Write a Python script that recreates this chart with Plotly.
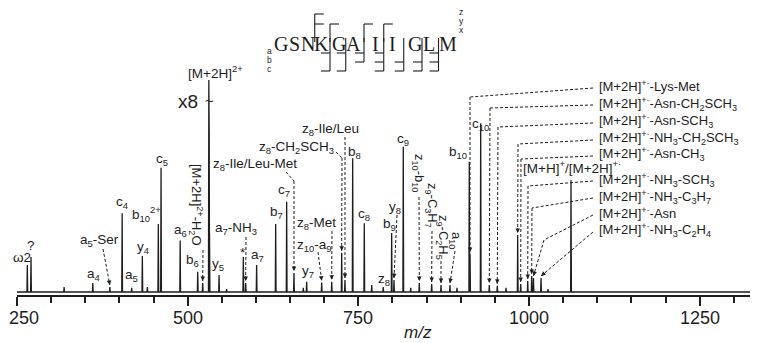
import plotly.graph_objects as go

# ---------------- data ----------------
peak_mz = [265.1, 270.5, 319.0, 361.0, 386.0, 404.0, 418.0, 433.6, 441.0, 457.0,
           461.0, 489.0, 514.7, 522.0, 531.0, 531.5, 532.0, 546.0, 557.0, 581.5,
           585.0, 601.0, 628.9, 645.0, 655.7, 669.4, 674.3, 696.3, 711.0, 725.6,
           730.4, 741.7, 758.7, 769.6, 786.5, 798.8, 802.2, 815.8, 826.7, 839.3,
           857.4, 871.1, 884.2, 894.5, 912.5, 913.6, 929.2, 941.8, 953.5, 966.3,
           983.4, 987.8, 998.1, 1003.9, 1006.5, 1017.6, 1027.8, 1061.5]
peak_int = [9.2, 12.0, 1.7, 3.1, 1.7, 27.0, 1.4, 12.3, 1.7, 23.3,
            42.5, 17.6, 6.9, 3.1, 72.6, 55.0, 20.0, 5.8, 1.0, 12.0,
            3.1, 9.2, 23.3, 30.9, 6.5, 1.4, 3.5, 3.2, 3.5, 13.4,
            4.1, 45.8, 23.5, 2.4, 1.7, 20.2, 4.1, 49.7, 1.4, 3.1,
            2.7, 2.4, 2.4, 1.4, 44.6, 13.0, 57.8, 2.4, 2.1, 1.4,
            19.5, 2.7, 3.8, 5.5, 4.8, 4.8, 1.0, 38.3]

tick_vals = [250, 500, 750, 1000, 1250]
tick_text = ["250", "500", "750", "1000", "1250"]
sequence = list("GSNKGAIIGLM")
# cleavage site k = between residue k and k+1
c_term_ions = {3: ["z", "y"], 4: ["y"], 6: ["y"], 7: ["y"]}
n_term_ions = {4: ["a", "c"], 5: ["a", "c"], 6: ["a", "b"], 7: ["a", "b", "c"],
               8: ["b", "c"], 9: ["b", "c"], 10: ["a", "b", "c"]}

# labels placed directly on peaks: (text, label position in reference px)
plain_labels = [
    ("ω2", 22, 258, 0), ("?", 31, 245, 0), ("a<sub>4</sub>", 93, 274, 0),
    ("a<sub>5</sub>", 131, 275, 0), ("y<sub>4</sub>", 143, 247, 0),
    ("c<sub>4</sub>", 122, 202, 0), ("b<sub>10</sub><sup>2+</sup>", 146, 214, 0),
    ("c<sub>5</sub>", 162, 159, 0), ("a<sub>6</sub>", 180, 230, 0),
    ("b<sub>6</sub>", 192, 260, 0), ("[M+2H]<sup>2+</sup>", 215, 72, 0),
    ("y<sub>5</sub>", 218, 264, 0), ("*", 243, 252, 0),
    ("a<sub>7</sub>", 257, 255, 0), ("b<sub>7</sub>", 276, 212, 0),
    ("c<sub>7</sub>", 284, 190, 0), ("y<sub>7</sub>", 308, 271, 0),
    ("b<sub>8</sub>", 354, 152, 0), ("c<sub>8</sub>", 364, 214, 0),
    ("c<sub>9</sub>", 403, 139, 0), ("b<sub>9</sub>", 389, 224, 0),
    ("z<sub>8</sub>", 384, 279, 0), ("b<sub>10</sub>", 458, 152, 0),
    ("c<sub>10</sub>", 480, 124, 0),
    ("[M+H]<sup>+</sup>/[M+2H]<sup>+·</sup>", 572, 167, 0),
]

# labels with dashed leaders: (text, label px, angle, anchor, leader path px, target m/z)
leader_labels = [
    ("a<sub>5</sub>-Ser", (99, 240), 0, "center", [(103, 249)], 386.0),
    ("[M+2H]<sup>2+</sup>-H<sub>2</sub>O", (196, 205), 90, "center", [(203, 250)], 522.0),
    ("a<sub>7</sub>-NH<sub>3</sub>", (236, 228), 0, "center", [(246, 237)], 585.0),
    ("z<sub>8</sub>-Ile/Leu-Met", (255, 164), 0, "center", [(286, 172), (294, 181)], 655.7),
    ("z<sub>10</sub>-a<sub>9</sub>", (314, 245), 0, "center", [(318, 252)], 696.3),
    ("z<sub>8</sub>-Met", (316, 223), 0, "center", [(332, 231)], 711.0),
    ("z<sub>8</sub>-CH<sub>2</sub>SCH<sub>3</sub>", (296, 147), 0, "center", [(336, 152), (342, 158)], 725.6),
    ("z<sub>8</sub>-Ile/Leu", (330, 129), 0, "center", [(345, 137)], 730.4),
    ("y<sub>8</sub>", (395, 207), 0, "center", [(397, 215)], 802.2),
    ("z<sub>10</sub>-b<sub>10</sub>", (419, 173), 90, "center", [(419, 197)], 839.3),
    ("z<sub>9</sub>-C<sub>3</sub>H<sub>7</sub>", (432, 205), 90, "center", [(432, 231)], 857.4),
    ("z<sub>9</sub>-C<sub>2</sub>H<sub>5</sub>", (443, 237), 90, "center", [(441, 261)], 871.1),
    ("a<sub>10</sub>", (456, 240), 90, "center", [(455, 251)], 884.2),
    ("[M+2H]<sup>+·</sup>-Lys-Met", (597, 86), 0, "left", [(593, 88), (470, 97)], 913.6),
    ("[M+2H]<sup>+·</sup>-Asn-CH<sub>2</sub>SCH<sub>3</sub>", (597, 104), 0, "left", [(593, 105), (490, 108)], 941.8),
    ("[M+2H]<sup>+·</sup>-Asn-SCH<sub>3</sub>", (597, 121), 0, "left", [(593, 123), (498, 127)], 953.5),
    ("[M+2H]<sup>+·</sup>-NH<sub>3</sub>-CH<sub>2</sub>SCH<sub>3</sub>", (597, 138), 0, "left", [(593, 140), (518, 144)], 983.4),
    ("[M+2H]<sup>+·</sup>-Asn-CH<sub>3</sub>", (597, 154), 0, "left", [(593, 156), (521, 159)], 987.8),
    ("[M+2H]<sup>+·</sup>-NH<sub>3</sub>-SCH<sub>3</sub>", (597, 180), 0, "left", [(593, 181), (528, 186)], 998.1),
    ("[M+2H]<sup>+·</sup>-NH<sub>3</sub>-C<sub>3</sub>H<sub>7</sub>", (597, 197), 0, "left", [(593, 198), (532, 208)], 1003.9),
    ("[M+2H]<sup>+·</sup>-Asn", (597, 213), 0, "left", [(593, 215), (544, 240)], 1006.5),
    ("[M+2H]<sup>+·</sup>-NH<sub>3</sub>-C<sub>2</sub>H<sub>4</sub>", (597, 230), 0, "left", [(593, 232)], 1017.6),
]

# ---------------- geometry helpers (reference-pixel based) ----------------
OFF = 8                      # page offset of the figure inside the browser window
W, H = 758 - OFF, 343 - OFF
AX_LEFT, AX_Y, BASE = 17, 295, 292     # reference px: axis start, axis line, spectrum baseline
L, R, T, B = AX_LEFT - OFF, 0, 0, (343 - AX_Y)
PW, PH = W - L - R, H - T - B
X0 = 250.0
PXPU = 0.6827                # px per m/z unit
X1 = X0 + PW / PXPU
SC = 2.921                   # px per intensity unit
Y1 = (BASE - OFF) / SC
Y0 = -(AX_Y - BASE) / SC

def dx(px): return X0 + (px - AX_LEFT) / PXPU
def dy(py): return (BASE - py) / SC
def py_paper(py): return 1 - (py - OFF - T) / PH
def xpx(x): return AX_LEFT + (x - X0) * PXPU
def ypx(y): return BASE - y * SC

INK = "#1e1e1e"
FONT = "Liberation Sans, Arial, sans-serif"

def height_of(m):
    i = min(range(len(peak_mz)), key=lambda k: abs(peak_mz[k] - m))
    return peak_mz[i], peak_int[i]

# ---------------- spectrum trace ----------------
xs, ys = [X0], [0.0]
for m, h in sorted(zip(peak_mz, peak_int)):
    xs += [m - 0.55, m, m + 0.55]
    ys += [0.0, h, 0.0]
xs.append(X1)
ys.append(0.0)

fig = go.Figure(go.Scatter(x=xs, y=ys, mode="lines",
                           line=dict(color=INK, width=1.3), hoverinfo="skip"))

annotations = []
shapes = []

def add_text(text, px, py, angle=0, anchor="center", size=13.5, family=FONT):
    annotations.append(dict(x=dx(px), y=py_paper(py), yref="paper", text=text,
                             showarrow=False, textangle=angle, xanchor=anchor,
                             yanchor="middle",
                             font=dict(family=family, size=size, color=INK)))

def seg(p, q, dash="3px,2px", width=1):
    shapes.append(dict(type="line", x0=dx(p[0]), y0=dy(p[1]), x1=dx(q[0]), y1=dy(q[1]),
                       line=dict(color=INK, width=width, dash=dash)))

for text, px, py, ang in plain_labels:
    add_text(text, px, py, ang)

for text, (lx, ly), ang, anc, path, target in leader_labels:
    add_text(text, lx, ly, ang, anc, size=13 if anc == "left" or ang else 13.5)
    m, h = height_of(target)
    tip = (xpx(m), ypx(h) - 2)
    pts = path + [tip]
    for a, b in zip(pts[:-1], pts[1:]):
        seg(a, b)
    px_prev, py_prev = pts[-2]
    vx, vy = tip[0] - px_prev, tip[1] - py_prev
    n = (vx ** 2 + vy ** 2) ** 0.5 or 1
    annotations.append(dict(x=dx(tip[0]), y=dy(tip[1]), ax=-vx / n * 6, ay=-vy / n * 6,
                            text="", showarrow=True, arrowhead=2, arrowsize=0.9,
                            arrowwidth=1, arrowcolor=INK, standoff=0))

# x8 break marker
add_text("x8", 188, 101, size=19)
add_text("~", 209, 100, size=15)

# tick labels (the first one sits slightly inward, as in the reference)
for v, t in zip(tick_vals, tick_text):
    px = 24 if v == tick_vals[0] else xpx(v)
    add_text(t, px, 318, size=18)

# axis title
add_text("<i>m/z</i>", 418, 332, size=17)

# ---------------- peptide sequence with cleavage brackets ----------------
letter_px = [280.5, 294.5, 308, 321.5, 338.5, 353, 375, 392.5, 415, 429, 448]
for ch, px in zip(sequence, letter_px):
    add_text(ch, px, 44, size=20, family="Liberation Serif, Times New Roman, serif")
gap_px = [(letter_px[k] + letter_px[k + 1]) / 2 for k in range(len(letter_px) - 1)]
upper_tier = {"z": 14, "y": 24, "x": 33}
lower_tier = {"a": 53, "b": 62, "c": 71}
for k, ions in c_term_ions.items():
    gx = gap_px[k - 1]
    top = min(upper_tier[i] for i in ions)
    seg((gx, top), (gx, 42), dash="solid", width=1.1)
    for i in ions:
        seg((gx, upper_tier[i]), (gx + 9, upper_tier[i]), dash="solid", width=1.1)
for k, ions in n_term_ions.items():
    gx = gap_px[k - 1]
    bot = max(lower_tier[i] for i in ions)
    seg((gx, 38), (gx, bot), dash="solid", width=1.1)
    for i in ions:
        seg((gx - 9, lower_tier[i]), (gx, lower_tier[i]), dash="solid", width=1.1)
for ch, py in zip("abc", [51, 60, 69]):
    add_text(ch, 269, py, size=8.5)
for ch, py in zip("zyx", [12, 21, 30]):
    add_text(ch, 461, py, size=8.5)

fig.update_layout(
    width=W, height=H, margin=dict(l=L, r=R, t=T, b=B, pad=0, autoexpand=False),
    paper_bgcolor="white", plot_bgcolor="white", showlegend=False,
    annotations=annotations, shapes=shapes,
    xaxis=dict(range=[X0, X1], tickmode="array", tickvals=tick_vals,
               ticktext=[""] * len(tick_vals), automargin=False,
               ticks="outside", ticklen=9, tickwidth=1.5, tickcolor=INK,
               showline=True, linecolor=INK, linewidth=1.5, showgrid=False, zeroline=False,
               tickfont=dict(family=FONT, size=18, color=INK),
               minor=dict(tickmode="linear", tick0=250, dtick=50, ticks="outside",
                          ticklen=6, tickwidth=1.5, tickcolor=INK, showgrid=False)),
    yaxis=dict(range=[Y0, Y1], visible=False, showgrid=False, zeroline=False),
)

fig.write_html("out.html")
